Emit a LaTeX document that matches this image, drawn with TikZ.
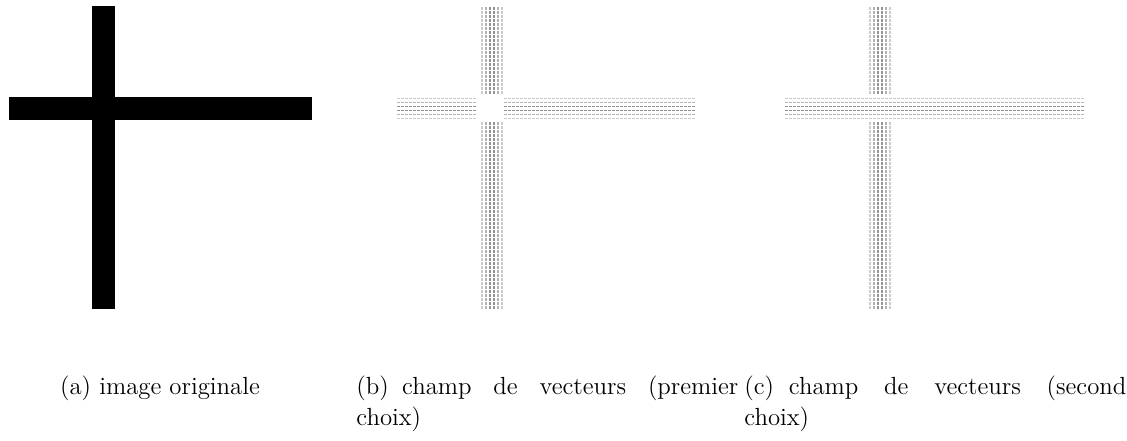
\documentclass[tikz,border=0pt]{standalone}
\begin{document}
\begin{tikzpicture}[x=0.5pt,y=-0.5pt,
  vec/.style={line width=0.55pt},
  legende/.style={anchor=base west, inner sep=0pt, font=\fontsize{12.4}{15.5}\selectfont},
  legendelarge/.style={legende, align=justify, text width=191pt}]
\useasboundingbox (0,0) rectangle (1127,440);
% (a) image originale
\fill (92,6) rectangle (115,309);
\fill (9,97) rectangle (312,120);
% (b) champ de vecteurs, premier choix
\foreach \i/\c in {0/gray!40,1/gray!60,2/gray!85,3/gray!85,4/gray!60,5/gray!40} {
  \draw[vec,\c] \foreach \y in {7,11,...,93} {({482+4*\i},\y) -- ++(0,2.6)};
  \draw[vec,\c] \foreach \y in {122,126,...,306} {({482+4*\i},\y) -- ++(0,2.6)};
  \draw[vec,\c] \foreach \x in {397,401,...,476} {(\x,{98.5+4*\i}) -- ++(3,0)};
  \draw[vec,\c] \foreach \x in {504,508,...,695} {(\x,{98.5+4*\i}) -- ++(3,0)};
}
% (c) champ de vecteurs, second choix
\foreach \i/\c in {0/gray!40,1/gray!60,2/gray!85,3/gray!85,4/gray!60,5/gray!40} {
  \draw[vec,\c] \foreach \y in {7,11,...,93} {({870+4*\i},\y) -- ++(0,2.6)};
  \draw[vec,\c] \foreach \y in {122,126,...,306} {({870+4*\i},\y) -- ++(0,2.6)};
  \draw[vec,\c] \foreach \x in {785,789,...,1084} {(\x,{98.5+4*\i}) -- ++(3,0)};
}
% legendes
\node[legende, anchor=base] (capa) at (160,394) {(a) image originale};
\node[legendelarge] (capb) at (356,394) {(b)\hskip 0.333em plus 0.06em champ de vecteurs (premier\linebreak choix)};
\node[legendelarge] (capc) at (744,394) {(c)\hskip 0.333em plus 0.06em champ de vecteurs (second\linebreak choix)};
\end{tikzpicture}
\end{document}
